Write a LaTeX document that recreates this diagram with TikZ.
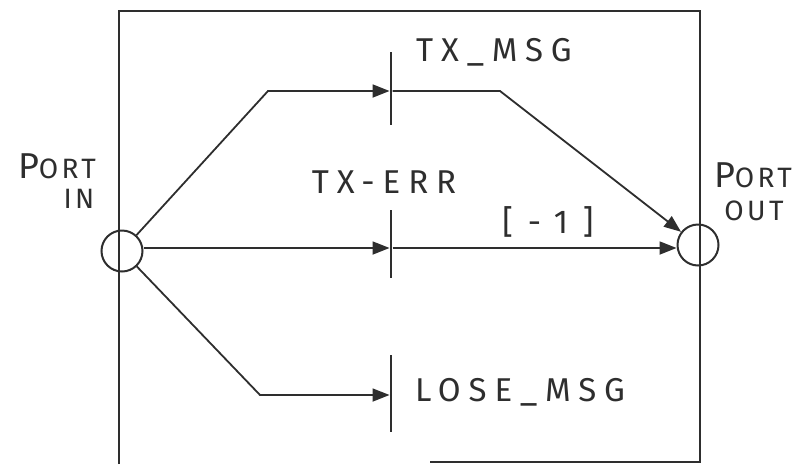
\documentclass[tikz,border=0pt]{standalone}
\usepackage{fontspec}
\setmainfont{Fira Sans}[LetterSpace=24]
\usetikzlibrary{arrows.meta}
\definecolor{ink}{HTML}{2E2E2E}
\tikzset{
  line/.style={draw=ink, line width=1.8pt},
  arr/.style={line, -{Triangle[length=17pt,width=13pt]}},
  place/.style={circle, draw=ink, line width=2pt, minimum size=41pt, inner sep=0pt},
  bar/.style={rectangle, fill=ink, inner sep=0pt, minimum width=2.6pt},
  lbl/.style={text=ink, font=\fontsize{33}{33}\selectfont, inner sep=0pt},
  portlbl/.style={text=ink, font=\fontsize{28}{28}\selectfont\addfontfeature{LetterSpace=12}, inner sep=0pt},
}
\begin{document}
\begin{tikzpicture}[x=1pt,y=-1pt]
\useasboundingbox (0,0) rectangle (800,464);
% frame
\draw[line] (119,464) -- (119,11) -- (700,11) -- (700,462) -- (430,462);
% places
\node[place] (pin) at (122,251) {};
\node[place] (pout) at (698,245) {};
% transitions
\node[bar, minimum height=73pt] (tmsg) at (391,88) {};
\node[bar, minimum height=68pt] (terr) at (391,244) {};
\node[bar, minimum height=77pt] (tlose) at (391,393) {};
% bend points
\coordinate (c1) at (268,91);
\coordinate (c2) at (500,91);
\coordinate (c3) at (260,395);
\coordinate (e1) at (122,248);
% arcs
\draw[arr] (pin) -- (c1) -- (tmsg.west |- c1);
\draw[arr] (tmsg.east |- c1) -- (c2) -- (pout);
\draw[arr] (pin.east |- e1) -- (terr.west |- e1);
\draw[arr] (terr.east |- e1) -- (pout.west |- e1);
\draw[arr] (pin) -- (c3) -- (tlose.west |- c3);
% labels
\node[portlbl] (lpin1) at (57,166) {{\fontsize{36}{36}\selectfont P}ORT};
\node[portlbl] (lpin2) at (79,199) {IN};
\node[portlbl] (lpout1) at (753,175) {{\fontsize{36}{36}\selectfont P}ORT};
\node[portlbl] (lpout2) at (754,211) {OUT};
\node[lbl] (lmsg) at (494,52) {TX\_MSG};
\node[lbl] (lerr) at (384,182) {TX-ERR};
\node[lbl] (lw) at (548,222) {\addfontfeature{LetterSpace=45}[-1]};
\node[lbl] (llose) at (520,392) {LOSE\_MSG};
\end{tikzpicture}
\end{document}
